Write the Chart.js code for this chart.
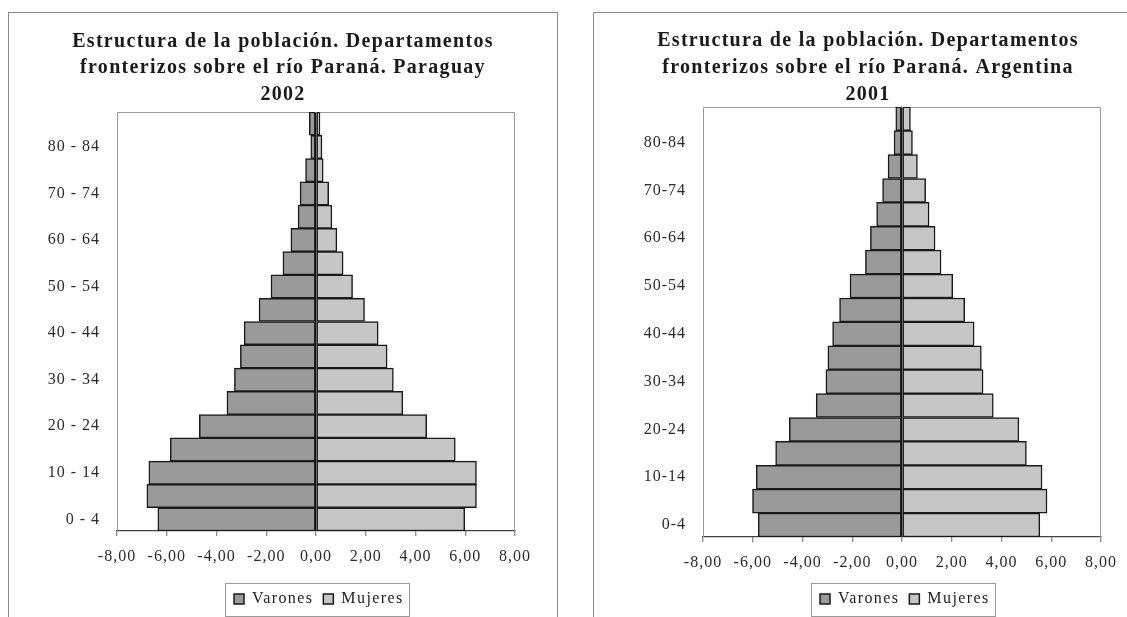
<!DOCTYPE html>
<html>
<head>
<meta charset="utf-8">
<script src="https://cdn.jsdelivr.net/npm/chart.js@4.4.1/dist/chart.umd.min.js"></script>
<style>
  html, body { margin: 0; padding: 0; background: #fff; width: 1127px; height: 617px; overflow: hidden; }
  .panel { position: absolute; top: 12px; width: 548px; height: 620px; border: 1px solid #8a8a8a; background: #fff; }
  #panelPy { left: 8px; }
  #panelAr { left: 593px; }
  canvas { display: block; }
</style>
</head>
<body>
<div class="panel" id="panelPy"><canvas id="chartPy" width="548" height="610"></canvas></div>
<div class="panel" id="panelAr"><canvas id="chartAr" width="548" height="610"></canvas></div>
<script>
// Age groups, youngest first (every other one is labelled on the axis)
const agesPy = ['0 - 4', '5 - 9', '10 - 14', '15 - 19', '20 - 24', '25 - 29', '30 - 34', '35 - 39', '40 - 44',
                '45 - 49', '50 - 54', '55 - 59', '60 - 64', '65 - 69', '70 - 74', '75 - 79', '80 - 84', '85 y más'];
const agesAr = ['0-4', '5-9', '10-14', '15-19', '20-24', '25-29', '30-34', '35-39', '40-44',
                '45-49', '50-54', '55-59', '60-64', '65-69', '70-74', '75-79', '80-84', '85 y más'];

// Share of total population (%), men drawn to the left as negative values
const varonesPy = [-6.36, -6.80, -6.72, -5.86, -4.69, -3.58, -3.28, -3.04, -2.89, -2.29, -1.81, -1.33, -1.01, -0.72, -0.64, -0.42, -0.21, -0.27];
const mujeresPy = [5.98, 6.45, 6.45, 5.60, 4.45, 3.49, 3.11, 2.86, 2.50, 1.95, 1.47, 1.09, 0.84, 0.64, 0.51, 0.29, 0.24, 0.16];

const varonesAr = [-5.78, -6.01, -5.86, -5.08, -4.53, -3.45, -3.06, -2.98, -2.79, -2.51, -2.09, -1.47, -1.27, -1.02, -0.78, -0.56, -0.32, -0.25];
const mujeresAr = [5.54, 5.83, 5.63, 5.00, 4.70, 3.67, 3.26, 3.19, 2.90, 2.52, 2.04, 1.57, 1.33, 1.09, 0.95, 0.62, 0.42, 0.34];

const titlePy = ['Estructura de la población. Departamentos', 'fronterizos sobre el río Paraná. Paraguay', '2002'];
const titleAr = ['Estructura de la población. Departamentos', 'fronterizos sobre el río Paraná. Argentina', '2001'];

const xMin = -8, xMax = 8, xStep = 2;

const SERIF = "'Liberation Serif', 'Times New Roman', serif";
Chart.defaults.font.family = SERIF;
Chart.defaults.font.size = 16;
Chart.defaults.color = '#2a2a2a';

// Wraps a layout box's draw so it is shifted horizontally and drawn with its own letter spacing
function wrapBoxDraw(chart, box, getDx, spacing) {
  if (!box || box._wrapped) return;
  const draw = box.draw.bind(box);
  box.draw = function (area) {
    const ctx = chart.ctx;
    ctx.save();
    ctx.translate(getDx(), 0);
    ctx.letterSpacing = spacing;
    draw(area);
    ctx.restore();
  };
  box._wrapped = true;
}

// Excel-like text spacing; title centred on the whole panel, legend centred under the plot
const spacingPlugin = {
  id: 'spacing',
  beforeUpdate(chart) { chart.ctx.letterSpacing = '1px'; },
  beforeDraw(chart) {
    chart.ctx.letterSpacing = '1px';
    const t = chart.titleBlock;
    wrapBoxDraw(chart, t, () => chart.width / 2 - (t.left + t.right) / 2, '1.3px');
    const lg = chart.legend;
    chart.$legendDx = () => (chart.chartArea.left + chart.chartArea.right) / 2 - (lg.left + lg.right) / 2;
    wrapBoxDraw(chart, lg, chart.$legendDx, '1.4px');
  }
};

// Gray plot-area border (bottom edge is the x axis line)
const plotFramePlugin = {
  id: 'plotFrame',
  beforeDatasetsDraw(chart) {
    const {ctx, chartArea: a} = chart;
    const l = Math.round(a.left) + 0.5, r = Math.round(a.right) - 0.5;
    const t = Math.round(a.top) + 0.5, b = Math.round(a.bottom);
    ctx.save();
    ctx.strokeStyle = '#9a9a9a';
    ctx.lineWidth = 1;
    ctx.beginPath();
    ctx.moveTo(l, b); ctx.lineTo(l, t); ctx.lineTo(r, t); ctx.lineTo(r, b);
    ctx.stroke();
    ctx.restore();
  }
};

// Box around the legend entries
const legendFramePlugin = {
  id: 'legendFrame',
  afterDraw(chart) {
    const lg = chart.legend;
    if (!lg || !lg.legendHitBoxes || !lg.legendHitBoxes.length) return;
    const boxes = lg.legendHitBoxes;
    const dx = chart.$legendDx ? chart.$legendDx() : 0;
    let left = Infinity, right = -Infinity;
    boxes.forEach(b => { left = Math.min(left, b.left); right = Math.max(right, b.left + b.width); });
    const cy = boxes[0].top + boxes[0].height / 2;
    const ctx = chart.ctx;
    ctx.save();
    ctx.strokeStyle = '#9a9a9a';
    ctx.lineWidth = 1;
    ctx.strokeRect(Math.round(left + dx - 9) + 0.5, Math.round(cy - 16) + 0.5, Math.round(right - left + 20), 33);
    ctx.restore();
  }
};

function formatPct(v) {
  return Number(v).toFixed(2).replace('.', ',');
}

function makePyramid(canvasId, ages, varones, mujeres, title, geo) {
  return new Chart(document.getElementById(canvasId), {
    type: 'bar',
    data: {
      labels: ages,
      datasets: [
        { label: 'Varones', data: varones, backgroundColor: '#9a9a9a', borderColor: '#1a1a1a',
          borderWidth: 1.5, borderSkipped: false },
        { label: 'Mujeres', data: mujeres, backgroundColor: '#c6c6c6', borderColor: '#1a1a1a',
          borderWidth: 1.5, borderSkipped: false }
      ]
    },
    options: {
      indexAxis: 'y',
      responsive: false,
      animation: false,
      devicePixelRatio: 1,
      datasets: { bar: { categoryPercentage: 1, barPercentage: 1 } },
      layout: { padding: { left: 0, top: 0, right: geo.right, bottom: 6 } },
      scales: {
        x: {
          stacked: true,
          min: xMin, max: xMax,
          ticks: { stepSize: xStep, padding: 11, color: '#2a2a2a', callback: v => formatPct(v), maxRotation: 0 },
          grid: {
            color: c => (c.tick && c.tick.value === 0) ? '#151515' : 'rgba(0,0,0,0)',
            lineWidth: 1.5,
            tickColor: '#666',
            tickLength: 5,
            tickWidth: 1
          },
          border: { display: true, color: '#444', width: 1.2 },
          afterFit(scale) { scale.height = geo.xHeight; }
        },
        y: {
          stacked: true,
          reverse: true,
          grid: { display: false, drawTicks: false },
          border: { display: false },
          ticks: {
            autoSkip: false,
            padding: 17,
            color: '#2a2a2a',
            callback: function (val, idx) { return idx % 2 === 0 ? this.getLabelForValue(val) : ''; }
          },
          afterFit(scale) { scale.width = geo.yWidth; }
        }
      },
      plugins: {
        title: {
          display: true,
          text: title,
          color: '#1a1a1a',
          font: { family: SERIF, size: 20, weight: 'bold', lineHeight: geo.lineHeight },
          padding: { top: geo.titleTop, bottom: geo.titleBottom }
        },
        legend: {
          position: 'bottom',
          labels: { boxWidth: 10, boxHeight: 10, padding: 10, color: '#222', font: { size: 16 } }
        },
        tooltip: { enabled: false }
      }
    },
    plugins: [spacingPlugin, plotFramePlugin, legendFramePlugin]
  });
}

makePyramid('chartPy', agesPy, varonesPy, mujeresPy, titlePy,
  { yWidth: 108, right: 42, xHeight: 50, lineHeight: '26.6px', titleTop: 15.3, titleBottom: 3.9 });
makePyramid('chartAr', agesAr, varonesAr, mujeresAr, titleAr,
  { yWidth: 109, right: 41, xHeight: 44, lineHeight: '26.6px', titleTop: 15, titleBottom: -1 });
</script>
</body>
</html>
